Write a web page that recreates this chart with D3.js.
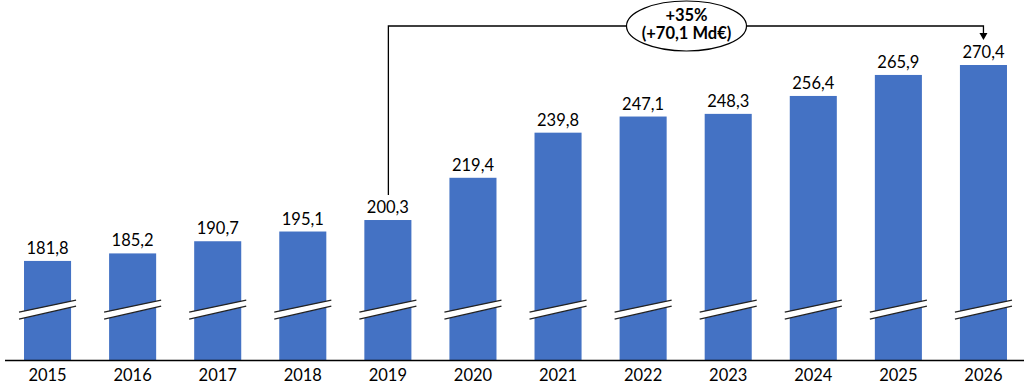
<!DOCTYPE html>
<html><head><meta charset="utf-8">
<script src="https://cdn.jsdelivr.net/npm/d3@7"></script>
<style>body{margin:0;background:#fff}svg{display:block}text{font-family:Lato,"Open Sans",sans-serif}</style>
</head><body><svg id="c" width="1024" height="388"></svg>
<script>
const years = ["2015","2016","2017","2018","2019","2020","2021","2022","2023","2024","2025","2026"];
const values = [181.8,185.2,190.7,195.1,200.3,219.4,239.8,247.1,248.3,256.4,265.9,270.4];
const valueLabels = ["181,8","185,2","190,7","195,1","200,3","219,4","239,8","247,1","248,3","256,4","265,9","270,4"];
const annotFrom = "2019", annotTo = "2026";
const annotText = ["+35%","(+70,1 Md€)"];

const svg = d3.select("#c");
const x = d3.scaleBand().domain(years).range([5,1026]).paddingInner(0.447).paddingOuter(0.2235);
const y = d3.scaleLinear().domain([137,270.4]).range([360,65]);
const color = "#4472C4";
const fs = 16.5;

svg.selectAll("rect.bar").data(years).join("rect").attr("class","bar")
  .attr("x",d=>x(d)).attr("width",x.bandwidth())
  .attr("y",(d,i)=>y(values[i])).attr("height",(d,i)=>y.range()[0]-y(values[i]))
  .attr("fill",color);

// break marks
const bc = y(160);
years.forEach(d=>{
  const x0 = x(d)-5, x1 = x(d)+x.bandwidth()+5;
  const g = svg.append("g");
  g.append("path").attr("d",`M${x0},${bc+3}L${x1},${bc-9}L${x1},${bc-3}L${x0},${bc+10}Z`).attr("fill","#fff");
  g.append("line").attr("x1",x0).attr("y1",bc+3).attr("x2",x1).attr("y2",bc-9).attr("stroke","#222").attr("stroke-width",1.3);
  g.append("line").attr("x1",x0).attr("y1",bc+10).attr("x2",x1).attr("y2",bc-3).attr("stroke","#222").attr("stroke-width",1.3);
});

// axis
const ax = svg.append("g").attr("transform",`translate(0,${y.range()[0]})`)
  .call(d3.axisBottom(x).tickSize(0).tickPadding(10));
ax.select(".domain").attr("d","M5,0.5H1024").attr("stroke","#000").attr("stroke-width",1.3);
ax.selectAll("text").attr("font-size",fs).attr("fill","#000").attr("font-family","Lato");
ax.selectAll("text").attr("dy",null).attr("y",21);

// value labels
svg.selectAll("text.val").data(years).join("text").attr("class","val")
  .attr("x",d=>x(d)+x.bandwidth()/2).attr("y",(d,i)=>y(values[i])-7)
  .attr("text-anchor","middle").attr("font-size",fs).attr("fill","#000")
  .text((d,i)=>valueLabels[i]);

// annotation
const xa = x(annotFrom)+x.bandwidth()/2, xb = x(annotTo)+x.bandwidth()/2;
const topY = 26;
const ya = y(values[years.indexOf(annotFrom)]) - 25;
svg.append("path").attr("d",`M${xa+0.5},${ya}V${topY}H${xb}V${topY+8}`)
  .attr("fill","none").attr("stroke","#000").attr("stroke-width",1.3);
svg.append("path").attr("d",`M${xb-4},${topY+7}L${xb+4},${topY+7}L${xb},${topY+14}Z`).attr("fill","#000");
const ex = 686.5;
svg.append("ellipse").attr("cx",ex).attr("cy",topY).attr("rx",60).attr("ry",25)
  .attr("fill","#fff").attr("stroke","#000").attr("stroke-width",1.2);
svg.append("text").attr("x",ex).attr("y",21).attr("text-anchor","middle").attr("font-size",fs).attr("font-weight","bold").text(annotText[0]);
svg.append("text").attr("x",ex).attr("y",39).attr("text-anchor","middle").attr("font-size",fs).attr("font-weight","bold").text(annotText[1]);
</script></body></html>
